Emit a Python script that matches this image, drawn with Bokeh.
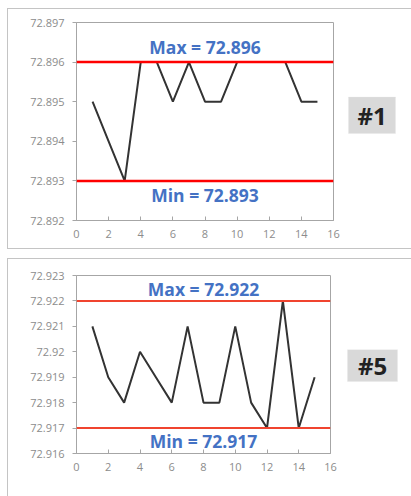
from bokeh.plotting import figure
from bokeh.layouts import column, row
from bokeh.models import Range1d, FixedTicker, Span, Label, BoxAnnotation
from bokeh.embed import file_html
from bokeh.resources import INLINE

# Sample measurements, chart #1
x1 = [1, 2, 3, 4, 5, 6, 7, 8, 9, 10, 11, 12, 13, 14, 15]
y1 = [72.895, 72.894, 72.893, 72.896, 72.896, 72.895, 72.896, 72.895,
      72.895, 72.896, 72.896, 72.896, 72.896, 72.895, 72.895]
max1 = 72.896
min1 = 72.893
yticks1 = [72.892, 72.893, 72.894, 72.895, 72.896, 72.897]
ylabels1 = ["72.892", "72.893", "72.894", "72.895", "72.896", "72.897"]

# Sample measurements, chart #5
x5 = [1, 2, 3, 4, 5, 6, 7, 8, 9, 10, 11, 12, 13, 14, 15]
y5 = [72.921, 72.919, 72.918, 72.920, 72.919, 72.918, 72.921, 72.918,
      72.918, 72.921, 72.918, 72.917, 72.922, 72.917, 72.919]
max5 = 72.922
min5 = 72.917
yticks5 = [72.916, 72.917, 72.918, 72.919, 72.920, 72.921, 72.922, 72.923]
ylabels5 = ["72.916", "72.917", "72.918", "72.919", "72.92", "72.921", "72.922", "72.923"]

xticks = [0, 2, 4, 6, 8, 10, 12, 14, 16]

BLUE = "#4472C4"
GRAY = "#a6a6a6"
TICK_FONT = "Open Sans"
FRAME_BORDER = "1px solid #c4c4c4"


def make_chart(xs, ys, ymax, ymin, yticks, ylabels, red, red_w,
               width, height, borders, max_off, min_off):
    top, right, bottom, left = borders
    p = figure(width=width, height=height, output_backend="svg",
               toolbar_location=None,
               x_range=Range1d(0, 16), y_range=Range1d(yticks[0], yticks[-1]),
               min_border_top=top, min_border_right=right,
               min_border_bottom=bottom, min_border_left=left)
    p.grid.visible = False
    p.outline_line_color = GRAY
    p.outline_line_width = 1

    p.xaxis.ticker = FixedTicker(ticks=xticks)
    p.yaxis.ticker = FixedTicker(ticks=yticks)
    p.yaxis.major_label_overrides = {t: s for t, s in zip(yticks, ylabels)}
    for ax in (p.xaxis, p.yaxis):
        ax.axis_line_color = GRAY
        ax.major_tick_line_color = GRAY
        ax.minor_tick_line_color = None
        ax.major_label_text_color = "#8c8c8c"
        ax.major_label_text_font = TICK_FONT
        ax.major_label_text_font_size = "11px"
    p.xaxis.major_tick_in = 4
    p.xaxis.major_tick_out = 0
    p.xaxis.major_label_standoff = 9
    p.yaxis.major_tick_in = 0
    p.yaxis.major_tick_out = 4
    p.yaxis.major_label_standoff = 8

    p.add_layout(Span(location=ymax, dimension="width", line_color=red,
                      line_width=red_w))
    p.add_layout(Span(location=ymin, dimension="width", line_color=red,
                      line_width=red_w))

    p.line(xs, ys, line_color="#333333", line_width=2)

    p.add_layout(Label(x=8, y=ymax, y_offset=max_off,
                       text=f"Max = {ymax:.3f}", text_align="center",
                       text_baseline="middle", text_color=BLUE,
                       text_font="Open Sans", text_font_style="bold",
                       text_font_size="17.5px"))
    p.add_layout(Label(x=8, y=ymin, y_offset=min_off,
                       text=f"Min = {ymin:.3f}", text_align="center",
                       text_baseline="middle", text_color=BLUE,
                       text_font="Open Sans", text_font_style="bold",
                       text_font_size="17.5px"))
    return p


def make_tag(tag, width, height, box):
    # small pixel-space panel holding the grey "#n" tag
    left, right, bottom, top = box
    t = figure(width=width, height=height, output_backend="svg",
               toolbar_location=None, x_range=Range1d(0, width),
               y_range=Range1d(0, height), min_border=0)
    t.axis.visible = False
    t.grid.visible = False
    t.outline_line_color = None
    t.add_layout(BoxAnnotation(left=left, right=right, bottom=bottom, top=top,
                               fill_color="#d9d9d9", fill_alpha=1,
                               line_color="#e6e6e6", line_width=1))
    t.add_layout(Label(x=(left + right) / 2, y=(bottom + top) / 2, text=tag,
                       text_align="center", text_baseline="middle",
                       text_color="#222222", text_font="Open Sans",
                       text_font_style="bold", text_font_size="24px"))
    return t


p1 = make_chart(x1, y1, max1, min1, yticks1, ylabels1, "#ff0000", 2.5,
                332, 239, (13, 7, 28, 68), 15, -14)
t1 = make_tag("#1", 71, 239, (8, 55, 105, 149))

p5 = make_chart(x5, y5, max5, min5, yticks5, ylabels5, "#f0442f", 2,
                332, 237, (16, 10, 43, 68), 12, -13)
t5 = make_tag("#5", 71, 237, (7, 57, 96, 138))

r1 = row(p1, t1, margin=(8, 0, 0, 7),
         styles={"border-left": FRAME_BORDER, "border-top": FRAME_BORDER,
                 "border-bottom": FRAME_BORDER})
r5 = row(p5, t5, margin=(9, 0, 0, 7),
         styles={"border-left": FRAME_BORDER, "border-top": FRAME_BORDER})

layout = column(r1, r5, spacing=0)
open("out.html", "w").write(file_html(layout, INLINE))
